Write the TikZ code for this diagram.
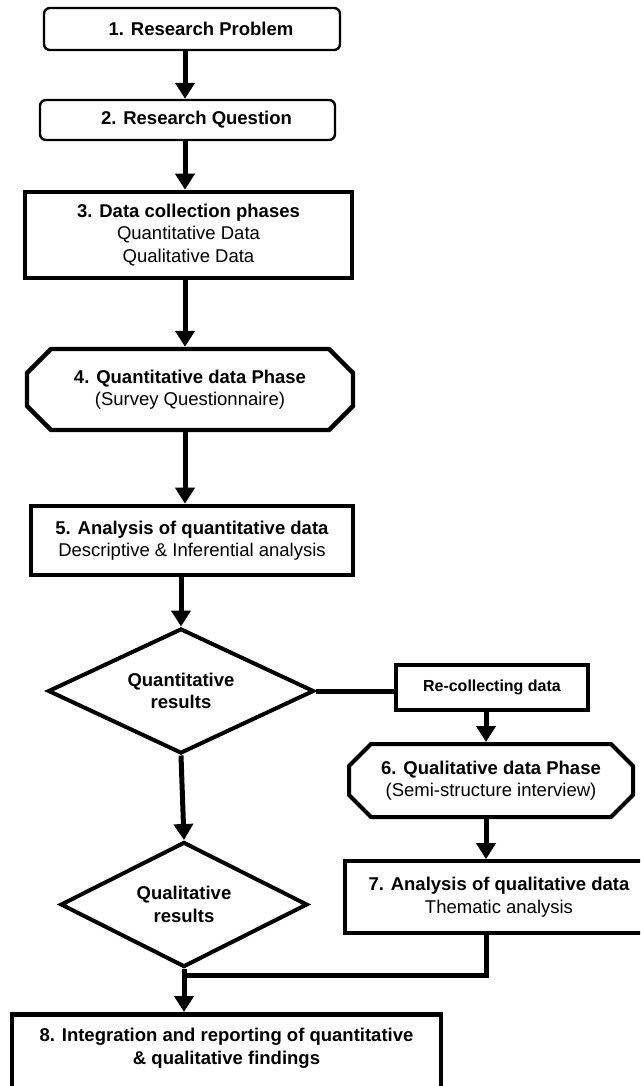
\documentclass[tikz,border=0pt]{standalone}
\usepackage{fontspec}
\setmainfont{Liberation Sans}
\usetikzlibrary{arrows.meta,shapes.geometric,shapes.misc}

\begin{document}
\begin{tikzpicture}[x=1pt,y=-1pt,
  every node/.style={font=\fontsize{18.5}{22.5}\selectfont, align=center, inner sep=0pt},
  roundbox/.style={draw, rounded corners=6pt, line width=2.4pt},
  plainbox/.style={draw, line width=4.6pt},
  thinbox/.style={draw, line width=3.8pt},
  cutbox/.style={draw, chamfered rectangle, chamfered rectangle xsep=12pt,
                 chamfered rectangle ysep=12pt, line width=4.4pt},
  decision/.style={draw, diamond, aspect=2, line width=4pt},
  conn/.style={line width=5pt, line join=miter},
  arr/.style={conn, -{Triangle[width=19pt,length=16pt]}}
]
\useasboundingbox (0,0) rectangle (640,1086);
\clip (0,0) rectangle (640,1086);

% left column of steps
\node[roundbox, minimum width=296pt, minimum height=42pt] (b1) at (192,29)
  {\hspace*{18pt}\textbf{1. Research Problem}};
\node[roundbox, minimum width=295pt, minimum height=40pt] (b2) at (187.5,120)
  {\hspace*{18pt}\textbf{2. Research Question}};
\node[plainbox, minimum width=327pt, minimum height=86pt] (b3) at (188.5,235)
  {\textbf{3. Data collection phases}\\ Quantitative Data\\ Qualitative Data};
\node[cutbox, minimum width=326pt, minimum height=81pt] (b4) at (190,389.5)
  {\textbf{4. Quantitative data Phase}\\ (Survey Questionnaire)};
\node[plainbox, minimum width=322pt, minimum height=69pt] (b5) at (192,540.5)
  {\textbf{5. Analysis of quantitative data}\\ Descriptive \& Inferential analysis};

% decisions
\node[decision, minimum width=266pt, minimum height=125pt] (d1) at (181,691)
  {\textbf{Quantitative}\\ \textbf{results}};
\node[decision, minimum width=247pt, minimum height=125pt] (d2) at (184,904.5)
  {\textbf{Qualitative}\\ \textbf{results}};

% right branch
\node[thinbox, minimum width=192pt, minimum height=45pt,
      font=\fontsize{16}{19}\selectfont] (rc) at (492,687.5)
  {\textbf{Re-collecting data}};
\node[cutbox, line width=4pt, chamfered rectangle xsep=11pt, chamfered rectangle ysep=11pt,
      minimum width=284pt, minimum height=73pt] (b6) at (491,780.5)
  {\textbf{6. Qualitative data Phase}\\ (Semi-structure interview)};
\node[thinbox, minimum width=308pt, minimum height=72pt] (b7) at (499,897)
  {\textbf{7. Analysis of qualitative data}\\ Thematic analysis};

% final step
\node[plainbox, anchor=north, minimum width=429pt, inner ysep=14pt] (b8) at (226.5,1012)
  {\textbf{8. Integration and reporting of quantitative}\\
   \textbf{\& qualitative findings}\rule[-14pt]{0pt}{0pt}};

% connector columns
\coordinate (colA) at (185,0);
\coordinate (colR) at (486,0);
\coordinate (join) at (0,975);

\draw[arr] (b1.south -| colA) -- (b2.north -| colA);
\draw[arr] (b2.south -| colA) -- (b3.north -| colA);
\draw[arr] (b3.south -| colA) -- (b4.north -| colA);
\draw[arr] (b4.south -| colA) -- (b5.north -| colA);
\draw[arr] (b5.south -| d1.north) -- (d1.north);
\draw[arr] (d1.south) -- (d2.north);
\draw[conn] (d1.east) -- (d1.east -| rc.west);
\draw[arr] (rc.south -| colR) -- (b6.north -| colR);
\draw[arr] (b6.south -| colR) -- (b7.north -| colR);
\draw[conn] (b7.south -| colR) |- (d2.south |- join);
\draw[arr] (d2.south) -- (b8.north -| d2.south);
\end{tikzpicture}
\end{document}
